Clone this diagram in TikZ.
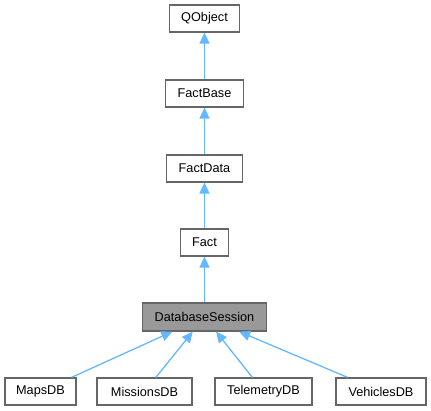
\documentclass[tikz,border=0pt]{standalone}
\usepackage{fontspec}
\setmainfont{Liberation Sans}
\usetikzlibrary{arrows.meta}
\definecolor{edgeblue}{HTML}{63B8FF}
\definecolor{boxborder}{HTML}{666666}
\definecolor{boxgray}{HTML}{999999}
\begin{document}
\begin{tikzpicture}[x=1pt,y=-1pt,
  cls/.style={draw=boxborder,fill=white,line width=1.2pt,inner sep=0pt,minimum height=27pt,font=\fontsize{12.7}{14}\selectfont},
  cur/.style={cls,fill=boxgray,minimum height=28pt},
  inh/.style={draw=edgeblue,line width=1.3pt,{Triangle[length=11pt,width=10pt]}-}
]
\useasboundingbox (0,0) rectangle (431,411);
\node[cls,minimum width=70pt] (qobject) at (204.5,18.5) {QObject};
\node[cls,minimum width=78pt] (factbase) at (204.5,93.5) {FactBase};
\node[cls,minimum width=76pt] (factdata) at (204.5,168.5) {FactData};
\node[cls,minimum width=48pt] (fact) at (204.5,242.5) {Fact};
\node[cur,minimum width=124pt] (dbs) at (204.5,317) {DatabaseSession};
\node[cls,minimum width=71pt] (maps) at (40.5,391.5) {MapsDB};
\node[cls,minimum width=95pt] (missions) at (144.5,391.5) {MissionsDB};
\node[cls,minimum width=97pt] (telemetry) at (263.5,391.5) {TelemetryDB};
\node[cls,minimum width=90pt] (vehicles) at (381,391.5) {VehiclesDB};
\draw[inh] (qobject) -- (factbase);
\draw[inh] (factbase) -- (factdata);
\draw[inh] (factdata) -- (fact);
\draw[inh] (fact) -- (dbs);
\draw[inh] (dbs) -- (maps);
\draw[inh] (dbs) -- (missions);
\draw[inh] (dbs) -- (telemetry);
\draw[inh] (dbs) -- (vehicles);
\end{tikzpicture}
\end{document}
